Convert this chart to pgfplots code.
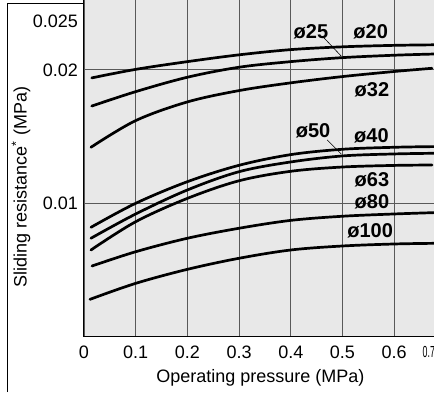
\documentclass[border=0pt]{standalone}
\usepackage{pgfplots}
\pgfplotsset{compat=1.18}
\usepackage{fontspec}
\setmainfont{Liberation Sans}
\usepackage{graphicx}
\begin{document}
\fontsize{18pt}{21pt}\selectfont
\begin{tikzpicture}
\begin{axis}[
  scale only axis, width=350pt, height=336.7pt,
  xmin=0, xmax=0.677, ymin=0, ymax=0.02524,
  axis x line=bottom, axis y line=left,
  axis line style={line width=1pt, -, black},
  axis background/.style={fill=gray!18},
  xtick={0,0.1,0.2,0.3,0.4,0.5,0.6},
  xticklabels={0\hspace{14pt},0.1,0.2,0.3,0.4,0.5,0.6},
  ytick={0.01,0.02}, yticklabels={0.01,0.02},
  extra y ticks={0.025}, extra y tick labels={0.025},
  extra y tick style={grid=none, yticklabel style={yshift=-18pt}},
  extra x ticks={0.667}, extra x tick labels={\scalebox{0.55}[1]{\fontsize{16pt}{18pt}\selectfont 0.7}},
  extra x tick style={grid=none},
  grid=major, major grid style={black!65, line width=0.9pt},
  major tick length=0pt,
  /pgf/number format/assume math mode=true,
  tick label style={font=\fontsize{18pt}{21pt}\selectfont},
  xticklabel style={yshift=-3pt},
  xlabel={Operating pressure (MPa)},
  ylabel={Sliding resistance\textsuperscript{*} (MPa)},
  xlabel style={at={(axis description cs:0.504,-0.1227)}, anchor=center, font=\fontsize{18pt}{21pt}\selectfont},
  ylabel style={at={(axis description cs:-0.18,0.445)}, anchor=center, font=\fontsize{18pt}{21pt}\selectfont},
  cycle list={{black, solid, no markers}},
  curve/.style={black, solid, no markers, line width=2.7pt, line cap=round, smooth, tension=0.55},
  clip=true,
]
% d20
\addplot[curve] coordinates {(0.015,0.0194) (0.1,0.02004) (0.2,0.02062) (0.3,0.02113) (0.4,0.02152) (0.5,0.02173) (0.6,0.02184) (0.677,0.02188)};
% d25
\addplot[curve] coordinates {(0.015,0.01729) (0.1,0.01837) (0.2,0.01945) (0.3,0.02020) (0.4,0.02062) (0.5,0.02092) (0.6,0.0211) (0.677,0.02119)};
% d32
\addplot[curve] coordinates {(0.0135,0.0142) (0.1,0.0162) (0.2,0.0176) (0.3,0.01845) (0.4,0.01903) (0.5,0.0195) (0.6,0.01988) (0.673,0.02012)};
% d40
\addplot[curve] coordinates {(0.0135,0.0082) (0.1,0.0100) (0.2,0.01162) (0.3,0.01285) (0.4,0.01365) (0.5,0.01405) (0.6,0.0142) (0.677,0.01425)};
% d50
\addplot[curve] coordinates {(0.0135,0.00738) (0.1,0.0092) (0.2,0.0110) (0.3,0.01237) (0.4,0.0131) (0.5,0.01355) (0.6,0.0137) (0.677,0.01375)};
% d63
\addplot[curve] coordinates {(0.0135,0.0065) (0.1,0.00862) (0.2,0.01037) (0.3,0.01169) (0.4,0.0124) (0.5,0.01272) (0.6,0.01284) (0.673,0.01287)};
% d80
\addplot[curve] coordinates {(0.0155,0.0053) (0.1,0.00637) (0.2,0.00738) (0.3,0.00813) (0.4,0.00872) (0.5,0.00903) (0.6,0.0092) (0.677,0.0093)};
% d100
\addplot[curve] coordinates {(0.0116,0.0028) (0.1,0.0040) (0.2,0.00505) (0.3,0.00588) (0.4,0.0065) (0.5,0.0068) (0.6,0.00695) (0.677,0.007)};
% labels
\begin{scope}[every node/.style={font=\fontsize{20pt}{22pt}\selectfont\bfseries, inner sep=0pt}]
\node at (axis cs:0.439,0.02284) {ø25};
\node at (axis cs:0.5545,0.02284) {ø20};
\node at (axis cs:0.557,0.01849) {ø32};
\node at (axis cs:0.443,0.01542) {ø50};
\node at (axis cs:0.556,0.01508) {ø40};
\node at (axis cs:0.557,0.01178) {ø63};
\node at (axis cs:0.557,0.0101) {ø80};
\node at (axis cs:0.5535,0.00796) {ø100};
\end{scope}
\draw[black, line width=0.6pt] (axis cs:0.4645,0.02239) -- (axis cs:0.4974,0.02104);
\draw[black, line width=0.6pt] (axis cs:0.4703,0.01475) -- (axis cs:0.4974,0.0137);
\end{axis}
\draw[black, line width=0.8pt] (-77pt,-55.3pt) -- (-77pt,333.5pt) -- (0pt,333.5pt);
\pgfresetboundingbox
\path[use as bounding box] (-84pt,-55.3pt) rectangle (350pt,336.7pt);
\end{tikzpicture}
\end{document}
